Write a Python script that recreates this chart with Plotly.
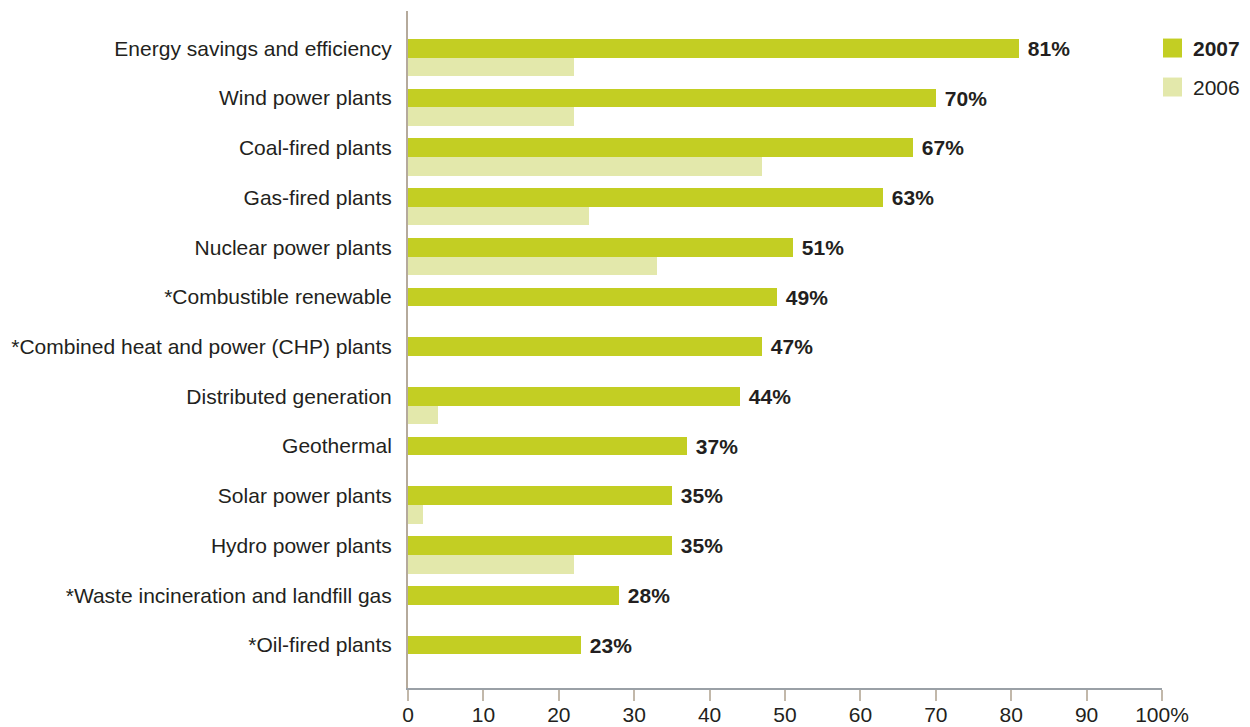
import plotly.graph_objects as go

categories = [
    "Energy savings and efficiency",
    "Wind power plants",
    "Coal-fired plants",
    "Gas-fired plants",
    "Nuclear power plants",
    "*Combustible renewable",
    "*Combined heat and power (CHP) plants",
    "Distributed generation",
    "Geothermal",
    "Solar power plants",
    "Hydro power plants",
    "*Waste incineration and landfill gas",
    "*Oil-fired plants",
]
values_2007 = [81, 70, 67, 63, 51, 49, 47, 44, 37, 35, 35, 28, 23]
values_2006 = [22, 22, 47, 24, 33, None, None, 4, None, 2, 22, None, None]

x_ticks = [0, 10, 20, 30, 40, 50, 60, 70, 80, 90, 100]
x_ticktext = ["0", "10", "20", "30", "40", "50", "60", "70", "80", "90", "100%"]

C2007 = "#c3ce23"
C2006 = "#e3e8ab"
TXT = "#231f20"
FONT = "Liberation Sans, Arial, sans-serif"

bw = 0.375

fig = go.Figure()

fig.add_trace(go.Bar(
    y=categories, x=values_2007, orientation="h",
    width=bw, offset=-bw / 2,
    marker=dict(color=C2007, line=dict(width=0)),
    text=[f"\u00a0{v}%" for v in values_2007],
    textposition="outside",
    constraintext="none",
    textfont=dict(family=FONT, size=21, color=TXT, weight="bold"),
    cliponaxis=False,
    name="2007", showlegend=False,
))

fig.add_trace(go.Bar(
    y=categories, x=values_2006, orientation="h",
    width=bw, offset=bw / 2,
    marker=dict(color=C2006, line=dict(width=0)),
    name="2006", showlegend=False,
))

# legend drawn by hand (big squares)
legend = [("<b>2007</b>", C2007, 0.9453), ("2006", C2006, 0.8877)]
for label, col, yc in legend:
    fig.add_shape(type="rect", xref="paper", yref="paper",
                  x0=1.0013, x1=1.0265, y0=yc - 0.014, y1=yc + 0.014,
                  fillcolor=col, line=dict(width=0))
    fig.add_annotation(xref="paper", yref="paper", x=1.039, y=yc,
                       text=label, showarrow=False, xanchor="left",
                       yanchor="middle",
                       font=dict(family=FONT, size=21, color=TXT))

fig.update_layout(
    width=1250, height=727,
    margin=dict(l=408, r=88, t=11, b=39),
    paper_bgcolor="white", plot_bgcolor="white",
    barmode="overlay",
    bargap=0,
    font=dict(family=FONT, size=21, color=TXT),
    xaxis=dict(
        range=[0, 100], tickvals=x_ticks, ticktext=x_ticktext,
        showgrid=False, zeroline=False, automargin=False,
        showline=True, linecolor="#9aa0a6", linewidth=1.5,
        ticks="outside", ticklen=11, tickcolor="#c2b8aa", tickwidth=1.5,
        ticklabelstandoff=-4,
        tickfont=dict(family=FONT, size=21, color=TXT),
    ),
    yaxis=dict(
        type="category", range=[12.865, -0.75],
        showgrid=False, zeroline=False, automargin=False,
        showline=True, linecolor="#b5aa9c", linewidth=2,
        ticks="", ticklabelstandoff=10,
        tickfont=dict(family=FONT, size=21, color=TXT),
    ),
)

fig.write_html("out.html", config={"displayModeBar": False},
               post_script="document.body.style.margin='0';")
